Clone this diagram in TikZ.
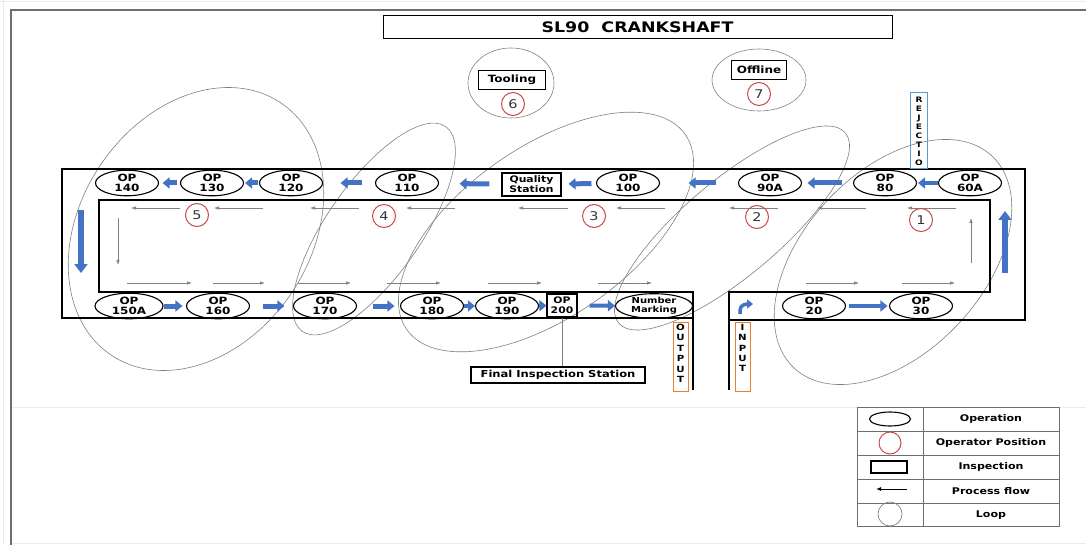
\documentclass[tikz,border=0pt]{standalone}
\usepackage{fontspec}
\setmainfont{DejaVu Sans}[FakeStretch=1.2]
\usetikzlibrary{arrows.meta,shapes.geometric}
\definecolor{opblue}{RGB}{68,114,196}
\definecolor{opred}{RGB}{200,75,75}
\definecolor{loopgray}{RGB}{128,128,128}
\definecolor{outorange}{RGB}{237,125,49}
\definecolor{rejblue}{RGB}{91,155,213}
\definecolor{framegray}{RGB}{110,110,110}
\tikzset{
  opnode/.style={ellipse, draw=black, line width=1.1pt, minimum width=63pt, minimum height=23pt, inner sep=0pt, align=center, font=\bfseries\fontsize{10}{10.5}\selectfont},
  inspbox/.style={rectangle, draw=black, line width=1.1pt, inner sep=0pt, align=center, font=\bfseries\fontsize{9}{10}\selectfont},
  operpos/.style={circle, draw=opred, line width=1pt, minimum size=23pt, inner sep=0pt, text=black!80, font=\fontsize{12}{12}\selectfont},
  loopst/.style={draw=loopgray, line width=0.6pt},
  track/.style={draw=black, line width=1.6pt},
  barr/.style={draw=opblue, line width=5pt, -{Triangle[length=7pt,width=11pt]}},
  bigarr/.style={draw=opblue, line width=6pt, -{Triangle[length=9pt,width=13pt]}},
  flow/.style={draw=gray, line width=0.6pt, -{Latex[length=5pt,width=3.5pt]}},
  vletters/.style={inner sep=0pt, align=center, font=\bfseries\fontsize{7.5}{9}\selectfont},
  legtext/.style={font=\bfseries\fontsize{9.2}{9.2}\selectfont}
}
\begin{document}
\begin{tikzpicture}[x=1pt,y=-1pt]
\useasboundingbox (0,0) rectangle (1086,545);
% page edges
\draw[gray!15, line width=0.8pt] (0,1) -- (1086,1);
\draw[gray!15, line width=0.8pt] (3,0) -- (3,545);
\draw[gray!15, line width=0.8pt] (12,407) -- (1086,407);
\draw[gray!15, line width=0.8pt] (12,543) -- (1086,543);
\draw[framegray, line width=1.4pt] (11,545) -- (11,10) -- (1086,10);

% title
\node[draw=black, line width=1pt, minimum width=509pt, minimum height=23pt, inner sep=0pt, font=\bfseries\fontsize{14.5}{15}\selectfont] (title) at (637.5,27) {SL90\ \ CRANKSHAFT};

% loops
\draw[loopst, rotate around={47:(893,262)}] (893,262) ellipse [x radius=145, y radius=90];
\draw[loopst, rotate around={40:(732,228)}] (732,228) ellipse [x radius=148, y radius=48];
\draw[loopst, rotate around={35:(546,232)}] (546,232) ellipse [x radius=170, y radius=85];
\draw[loopst, rotate around={55:(374,229)}] (374,229) ellipse [x radius=125, y radius=47];
\draw[loopst, rotate around={56:(196,229)}] (196,229) ellipse [x radius=152, y radius=115];
\draw[loopst] (511,83) ellipse [x radius=43, y radius=35];
\draw[loopst] (759,80) ellipse [x radius=47, y radius=31];

% track
\draw[track] (693,390) -- (693,292) -- (99,292) -- (99,200) -- (990,200) -- (990,292) -- (729,292) -- (729,390);
\draw[track] (693,318) -- (62,318) -- (62,169) -- (1025,169) -- (1025,320) -- (729,320);

% top row
\node[opnode] (op140) at (127,183) {OP\\140};
\node[opnode] (op130) at (212,183) {OP\\130};
\node[opnode] (op120) at (291,183) {OP\\120};
\node[opnode] (op110) at (407,183) {OP\\110};
\node[inspbox, minimum width=59pt, minimum height=23pt] (qs) at (531.5,184.5) {Quality\\Station};
\node[opnode] (op100) at (628,183) {OP\\100};
\node[opnode] (op90a) at (770,183) {OP\\90A};
\node[opnode] (op80) at (885,183) {OP\\80};
\node[opnode] (op60a) at (970,183) {OP\\60A};

% bottom row
\node[opnode, minimum width=68pt] (op150a) at (129,306) {OP\\150A};
\node[opnode] (op160) at (218,306) {OP\\160};
\node[opnode] (op170) at (325,306) {OP\\170};
\node[opnode] (op180) at (432,306) {OP\\180};
\node[opnode] (op190) at (507,306) {OP\\190};
\node[inspbox, minimum width=30pt, minimum height=23pt] (op200) at (562,305.5) {OP\\200};
\node[opnode, minimum width=77pt, font=\bfseries\fontsize{8.3}{9.3}\selectfont] (nm) at (654,306) {Number\\Marking};
\node[opnode] (op20) at (814,306) {OP\\20};
\node[opnode] (op30) at (921,306) {OP\\30};

% blue arrows top row
\draw[barr, shorten <=2.5pt, shorten >=3.5pt] (op130) -- (op140);
\draw[barr, shorten <=1pt, shorten >=1pt] (op120) -- (op130);
\draw[barr, shorten <=12.5pt, shorten >=17.5pt] (op110) -- (op120);
\draw[barr, shorten <=12pt, shorten >=20.5pt] (qs) -- (op110);
\draw[barr, shorten <=4.5pt, shorten >=7pt] (op100) -- (qs);
\draw[barr, shorten <=21.5pt, shorten >=28.5pt] (op90a) -- (op100);
\draw[barr, shorten <=10.5pt, shorten >=5.5pt] (op80) -- (op90a);
\draw[barr, line width=4pt, shorten <=0pt, shorten >=1pt] (op60a) -- (op80);
% blue arrows bottom row
\draw[barr, shorten <=0pt, shorten >=3.5pt] (op150a) -- (op160);
\draw[barr, shorten <=12.5pt, shorten >=8.5pt] (op160) -- (op170);
\draw[barr, shorten <=15.5pt, shorten >=5.5pt] (op170) -- (op180);
\draw[barr, line width=4pt] (op180) -- (op190);
\draw[barr, line width=4pt] (op190) -- (op200);
\draw[barr, line width=4pt, shorten <=12pt] (op200) -- (nm);
\draw[barr, line width=4pt, shorten <=2.5pt, shorten >=1.5pt] (op20) -- (op30);
% vertical big arrows
\coordinate (ldA) at (81,210); \coordinate (ldB) at (81,273);
\coordinate (ruA) at (1005,273); \coordinate (ruB) at (1005,211);
\draw[bigarr] (ldA) -- (ldB);
\draw[bigarr] (ruA) -- (ruB);
% input curved arrow
\coordinate (inA) at (740,314); \coordinate (inB) at (753,304);
\draw[draw=opblue, line width=3.5pt, -{Triangle[length=6pt,width=9pt]}] (inA) -- (740,310) to[out=90,in=180] (inB);

% thin flow arrows
\foreach \a/\b in {180/131,263/214,359/310,455/406,568/518,665/616,778/729,866/817,956/907}
  \draw[flow] (\a,208) -- (\b,208);
\foreach \a/\b in {127/192,213/265,298/351,387/441,488/542,598/652,806/859,902/955}
  \draw[flow] (\a,283) -- (\b,283);
\draw[flow] (118,218) -- (118,265);
\draw[flow] (971,263) -- (971,218);

% operator positions
\node[operpos] (p1) at (921,220) {1};
\node[operpos] (p2) at (757,217) {2};
\node[operpos] (p3) at (594,216) {3};
\node[operpos] (p4) at (384,216) {4};
\node[operpos] (p5) at (197,215) {5};
\node[operpos] (p6) at (513,104) {6};
\node[operpos] (p7) at (759,94) {7};

% tooling / offline
\node[inspbox, minimum width=67pt, minimum height=19pt, font=\bfseries\fontsize{10}{10}\selectfont] (tool) at (512,80) {Tooling};
\node[inspbox, minimum width=55pt, minimum height=19pt, font=\bfseries\fontsize{10}{10}\selectfont] (off) at (759,70) {Offline};

% rejection
\node[draw=rejblue, line width=1pt, minimum width=17pt, minimum height=76pt, inner sep=0pt] (rej) at (919,131) {};
\node[vletters] (rejt) at (rej.center) {R\\E\\J\\E\\C\\T\\I\\O};
% output / input
\node[draw=outorange, line width=1pt, minimum width=15pt, minimum height=69pt, inner sep=0pt] (outb) at (680.5,356.5) {};
\node[vletters, anchor=north, font=\bfseries\fontsize{8.5}{10.4}\selectfont] (outt) at (680.5,324) {O\\U\\T\\P\\U\\T};
\node[draw=outorange, line width=1pt, minimum width=15pt, minimum height=69pt, inner sep=0pt] (inb) at (742.5,356.5) {};
\node[vletters, anchor=north, font=\bfseries\fontsize{8.5}{10.4}\selectfont] (int) at (742.5,324) {I\\N\\P\\U\\T};

% final inspection
\node[inspbox, minimum width=174pt, minimum height=16pt, font=\bfseries\fontsize{9.6}{9.6}\selectfont] (fis) at (558,375) {Final Inspection Station};
\draw[gray, line width=0.8pt] (op200.south) -- (op200.south |- fis.north);

% legend
\draw[framegray, line width=1pt] (857,407) rectangle (1059,526);
\draw[framegray, line width=1pt] (923,407) -- (923,526);
\foreach \yy in {431,455,479,503} \draw[framegray, line width=1pt] (857,\yy) -- (1059,\yy);
\node[ellipse, draw=black, line width=1.1pt, minimum width=41pt, minimum height=14pt, inner sep=0pt] (lg1) at (890,419) {};
\node[circle, draw=opred, line width=1pt, minimum size=22pt, inner sep=0pt] (lg2) at (890,443) {};
\node[rectangle, draw=black, line width=1.1pt, minimum width=36pt, minimum height=12pt, inner sep=0pt] (lg3) at (889,467) {};
\coordinate (lg4a) at (907,489); \coordinate (lg4b) at (876,489);
\draw[black, line width=1pt, -{Latex[length=5pt,width=4pt]}] (lg4a) -- (lg4b);
\node[circle, draw=loopgray, line width=0.7pt, minimum size=24pt, inner sep=0pt] (lg5) at (890,514) {};
\node[legtext] (lt1) at (991,419) {Operation};
\node[legtext] (lt2) at (991,443) {Operator Position};
\node[legtext] (lt3) at (991,467) {Inspection};
\node[legtext] (lt4) at (991,491) {Process flow};
\node[legtext] (lt5) at (991,515) {Loop};
\end{tikzpicture}
\end{document}
